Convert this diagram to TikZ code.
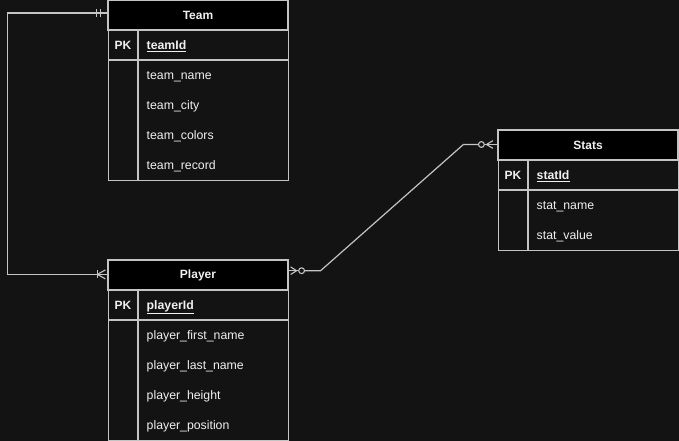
\documentclass[tikz,border=0pt]{standalone}
\usepackage{fontspec}
\setmainfont{Liberation Sans}
\usetikzlibrary{calc}
\definecolor{bg}{HTML}{131313}
\definecolor{edge}{HTML}{C4C4C4}
\definecolor{ink}{HTML}{F0F0F0}

\begin{document}
\begin{tikzpicture}[x=1pt,y=-1pt,
  tbl/.style={draw=edge, line width=1.2pt},
  head/.style={tbl, fill=black, minimum width=180pt, minimum height=30pt, inner sep=0pt,
    text=ink, font=\bfseries\fontsize{12}{14}\selectfont},
  body/.style={tbl, anchor=north west, minimum width=180pt, inner sep=0pt},
  keycell/.style={text=ink, font=\bfseries\fontsize{12}{14}\selectfont, anchor=base, inner sep=0pt},
  field/.style={text=ink, font=\fontsize{12.3}{14}\selectfont, anchor=base west, inner sep=0pt},
  link/.style={draw=edge, line width=1.2pt},
  endmark/.style={draw=edge, line width=1.1pt},
]
\fill[bg] (0,0) rectangle (679,441);
\useasboundingbox (0,0) rectangle (679,441);

% ---------- Team ----------
\node[body, minimum height=150pt] (teamB) at (108,30) {};
\node[head] (teamH) at (198,15) {Team};
\draw[tbl] (108,60) -- (288,60);
\draw[tbl] (138,30) -- (138,180);
\node[keycell] (teamPK) at (123,49.3) {PK};
\node[field, font=\bfseries\fontsize{12.3}{14}\selectfont] (teamK) at (146.5,49.3) {\underline{teamId}};
\node[field] (team1) at (146.5,79.3) {team\_name};
\node[field] (team2) at (146.5,109.3) {team\_city};
\node[field] (team3) at (146.5,139.3) {team\_colors};
\node[field] (team4) at (146.5,169.3) {team\_record};

% ---------- Player ----------
\node[body, minimum height=150pt] (playerB) at (108,290) {};
\node[head] (playerH) at (198,275) {Player};
\draw[tbl] (108,320) -- (288,320);
\draw[tbl] (138,290) -- (138,440);
\node[keycell] (playerPK) at (123,309.3) {PK};
\node[field, font=\bfseries\fontsize{12.3}{14}\selectfont] (playerK) at (146.5,309.3) {\underline{playerId}};
\node[field] (player1) at (146.5,339.3) {player\_first\_name};
\node[field] (player2) at (146.5,369.3) {player\_last\_name};
\node[field] (player3) at (146.5,399.3) {player\_height};
\node[field] (player4) at (146.5,429.3) {player\_position};

% ---------- Stats ----------
\node[body, minimum height=90pt] (statsB) at (498,160) {};
\node[head] (statsH) at (588,145) {Stats};
\draw[tbl] (498,190) -- (678,190);
\draw[tbl] (528,160) -- (528,250);
\node[keycell] (statsPK) at (513,179.3) {PK};
\node[field, font=\bfseries\fontsize{12.3}{14}\selectfont] (statsK) at (536.5,179.3) {\underline{statId}};
\node[field] (stats1) at (536.5,209.3) {stat\_name};
\node[field] (stats2) at (536.5,239.3) {stat\_value};

% ---------- Team -- Player (one mandatory to one-or-many) ----------
\coordinate (tpA) at ([yshift=2pt]teamH.west);
\coordinate (tpB) at ($(tpA)+(-100,0)$);
\coordinate (tpD) at ([yshift=0.6pt]playerH.west);
\coordinate (tpC) at (tpB |- tpD);
\draw[link] (tpA) -- (tpB) -- (tpC) -- (tpD);
% two bars at Team
\draw[endmark] ($(tpA)+(-10.5,-3.8)$) -- ++(0,7.6);
\draw[endmark] ($(tpA)+(-6.5,-3.8)$) -- ++(0,7.6);
% bar and crow's foot at Player
\draw[endmark] ($(tpD)+(-10,-4)$) -- ++(0,8);
\draw[endmark] ($(tpD)+(-10,0)$) -- ($(tpD)+(-2,-4.5)$);
\draw[endmark] ($(tpD)+(-10,0)$) -- ($(tpD)+(-2,4.5)$);

% ---------- Player -- Stats (zero-or-many on both ends) ----------
\coordinate (psA) at ([yshift=4.3pt]playerH.east);
\coordinate (psB) at ($(psA)+(32,0)$);
\coordinate (psD) at ([yshift=0.5pt]statsH.west);
\coordinate (psC) at ($(psD)+(-34,0)$);
\coordinate (psO1) at ($(psA)+(13,0)$);
\coordinate (psO2) at ($(psD)+(-16,0)$);
\draw[link] (psA) -- ($(psO1)+(-3,0)$);
\draw[link] ($(psO1)+(3,0)$) -- (psB) -- (psC) -- ($(psO2)+(-3,0)$);
\draw[link] ($(psO2)+(3,0)$) -- (psD);
\draw[endmark] (psO1) circle (2.9pt);
\draw[endmark] (psO2) circle (2.9pt);
% crow's foot at Player
\draw[endmark] ($(psA)+(2,-3.8)$) -- ($(psA)+(8,0)$) -- ($(psA)+(2,3.8)$);
% crow's foot at Stats
\draw[endmark] ($(psD)+(-4.5,-3.8)$) -- ($(psD)+(-11,0)$) -- ($(psD)+(-4.5,3.8)$);
\end{tikzpicture}
\end{document}
